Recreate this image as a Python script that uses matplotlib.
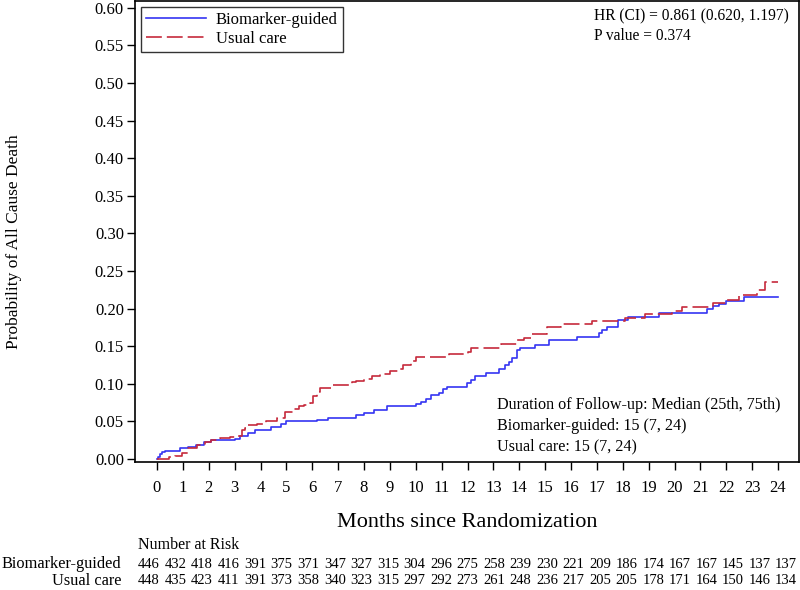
import numpy as np
import matplotlib.pyplot as plt

plt.rcParams['font.family'] = ['Liberation Serif', 'DejaVu Serif']

# Cumulative incidence step data (months, probability)
t_bg = [0, 0.05, 0.1, 0.2, 0.3, 0.9, 1.2, 1.5, 1.8, 2.1, 3.0, 3.2, 3.5, 3.8, 4.4, 4.8,
        5.0, 6.2, 6.6, 7.0, 7.7, 8.0, 8.4, 8.9, 10.0, 10.2, 10.4, 10.6, 10.9, 11.07,
        11.2, 11.97, 12.15, 12.3, 12.7, 13.2, 13.45, 13.6, 13.7, 13.9, 14.04, 14.62,
        15.14, 16.23, 17.1, 17.2, 17.4, 17.8, 18.2, 19.4, 21.24, 21.5, 21.7, 22.0,
        22.7, 24.0]
p_bg = [0, 0.003, 0.006, 0.009, 0.011, 0.014, 0.016, 0.019, 0.022, 0.025, 0.027, 0.030,
        0.034, 0.038, 0.043, 0.047, 0.050, 0.052, 0.054, 0.055, 0.058, 0.061, 0.065,
        0.070, 0.073, 0.076, 0.080, 0.085, 0.088, 0.0925, 0.096, 0.101, 0.105, 0.111,
        0.115, 0.119, 0.125, 0.129, 0.134, 0.145, 0.148, 0.151, 0.158, 0.162, 0.167,
        0.171, 0.176, 0.185, 0.189, 0.194, 0.200, 0.203, 0.206, 0.210, 0.216, 0.216]

t_uc = [0, 0.45, 0.7, 0.95, 1.2, 1.53, 1.86, 2.1, 2.43, 2.82, 3.07, 3.27, 3.4, 3.53,
        3.85, 4.2, 4.62, 4.95, 5.3, 5.5, 5.7, 5.91, 6.04, 6.2, 6.3, 6.8, 7.52, 7.7, 8.0,
        8.3, 8.6, 9.0, 9.3, 9.5, 9.8, 10.0, 11.3, 12.0, 12.15, 13.3, 13.9, 14.2, 14.5,
        15.06, 15.6, 16.8, 18.1, 18.85, 19.9, 20.3, 21.5, 22.0, 22.5, 23.2, 23.5, 24.0]
p_uc = [0, 0.002, 0.004, 0.0075, 0.014, 0.0186, 0.023, 0.025, 0.0275, 0.029, 0.031,
        0.0385, 0.041, 0.045, 0.0465, 0.051, 0.055, 0.063, 0.067, 0.070, 0.072, 0.075,
        0.084, 0.089, 0.095, 0.098, 0.102, 0.104, 0.107, 0.110, 0.113, 0.117, 0.120,
        0.125, 0.130, 0.135, 0.140, 0.1425, 0.147, 0.153, 0.158, 0.161, 0.166, 0.175,
        0.179, 0.184, 0.188, 0.193, 0.197, 0.202, 0.207, 0.212, 0.218, 0.225, 0.235,
        0.235]

risk_bg = [446, 432, 418, 416, 391, 375, 371, 347, 327, 315, 304, 296, 275, 258, 239,
           230, 221, 209, 186, 174, 167, 167, 145, 137, 137]
risk_uc = [448, 435, 423, 411, 391, 373, 358, 340, 323, 315, 297, 292, 273, 261, 248,
           236, 217, 205, 205, 178, 171, 164, 150, 146, 134]

months = np.arange(0, 25)
yticks = np.arange(0, 0.61, 0.05)

W, H = 800, 590
fig = plt.figure(figsize=(W / 100, H / 100), dpi=100)
ax = fig.add_axes([135 / W, 1 - 462 / H, 664 / W, 461 / H])

ax.step(t_bg, p_bg, where='post', color='#3535f2', lw=1.2, label='Biomarker-guided')
ax.step(t_uc, p_uc, where='post', color='#c62a3c', lw=1.2, dashes=(9.5, 3),
        label='Usual care')

ax.set_xlim(-0.85, 24.81)
ax.set_ylim(-0.004, 0.609)
ax.set_xticks(months)
ax.set_yticks(yticks)
ax.set_yticklabels([f'{v:.2f}' for v in yticks])
ax.tick_params(labelsize=12, length=6, width=1, color='black')
ax.tick_params(axis='x', pad=7)
ax.tick_params(axis='y', pad=2)
for s in ax.spines.values():
    s.set_linewidth(1.2)

ax.set_xlabel('Months since Randomization', fontsize=16, labelpad=12)
fig.text(14 / W, 1 - 242 / H, 'Probability of All Cause Death', fontsize=12.5,
         rotation=90, ha='center', va='center')

leg = ax.legend(loc='upper left', fontsize=12, frameon=True, fancybox=False,
                handlelength=3.6, borderpad=0.3, labelspacing=0.2,
                borderaxespad=0.35, handletextpad=0.6)
leg.get_frame().set_edgecolor('black')
leg.get_frame().set_linewidth(1.0)

ax.text((594 - 135) / 664, 0.985, 'HR (CI) = 0.861 (0.620, 1.197)\nP value = 0.374',
        transform=ax.transAxes, ha='left', va='top', fontsize=11.2, linespacing=1.35)
ax.text((497 - 135) / 664, (462 - 397) / 461,
        'Duration of Follow-up: Median (25th, 75th)\n'
        'Biomarker-guided: 15 (7, 24)\nUsual care: 15 (7, 24)',
        transform=ax.transAxes, ha='left', va='top', fontsize=11.6, linespacing=1.38)

# Number at risk table
fig.text(138 / W, 1 - 545 / H, 'Number at Risk', fontsize=11.5, va='center')
rows = [('Biomarker-guided', risk_bg, 564), ('Usual care', risk_uc, 581)]
for name, counts, yp in rows:
    fig.text(121 / W, 1 - yp / H, name, fontsize=11.8, ha='right', va='center')
    for i, n in enumerate(counts):
        xp = 149 + i * (786 - 149) / 24
        fig.text(xp / W, 1 - yp / H, str(n), fontsize=10.5, ha='center', va='center')

fig.savefig('out.png', dpi=100)
